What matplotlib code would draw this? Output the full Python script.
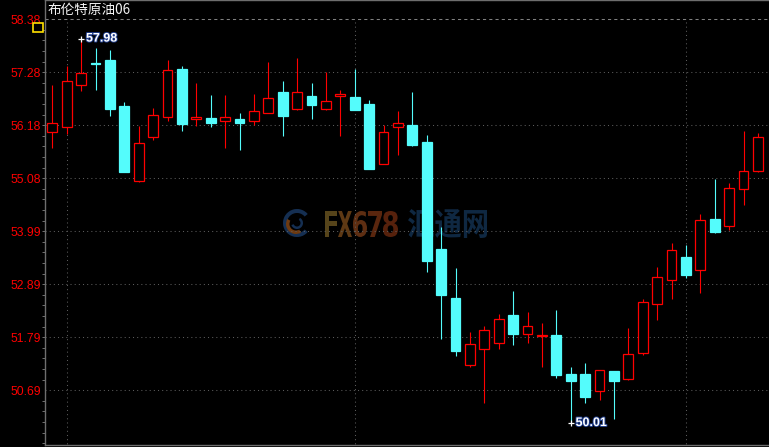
import numpy as np
import matplotlib
matplotlib.use("Agg")
import matplotlib.pyplot as plt
from matplotlib.patches import Rectangle, PathPatch, Wedge
from matplotlib.textpath import TextPath
from matplotlib.font_manager import FontProperties
from matplotlib.transforms import Affine2D
import matplotlib.patheffects as pe

# daily candles, Brent crude 06 contract
opens = [56.04, 56.15, 57.02, 57.48, 57.54, 56.58, 55.02, 55.95, 56.35, 57.34,
         56.32, 56.33, 56.28, 56.31, 56.28, 56.44, 56.87, 56.53, 56.79, 56.53,
         56.78, 56.77, 56.62, 55.39, 56.14, 56.19, 55.84, 53.62, 52.60, 51.22,
         51.54, 51.66, 52.25, 51.85, 51.82, 51.84, 51.03, 51.03, 50.68, 51.09,
         50.93, 51.47, 52.47, 52.97, 53.45, 53.18, 54.24, 54.09, 54.86, 55.23]
highs = [57.02, 57.42, 57.98, 57.78, 57.74, 56.67, 56.17, 56.54, 57.54, 57.41,
         57.06, 56.81, 56.81, 56.44, 56.83, 57.50, 57.10, 57.58, 57.06, 57.28,
         56.91, 57.35, 56.70, 56.18, 56.48, 56.87, 55.98, 54.07, 53.22, 51.90,
         52.02, 52.27, 52.75, 52.31, 52.08, 52.35, 51.17, 51.26, 51.12, 51.09,
         51.99, 52.58, 53.25, 53.74, 53.70, 54.34, 55.07, 54.99, 56.06, 56.02]
lows = [55.71, 56.00, 56.90, 56.91, 56.38, 55.21, 55.01, 55.88, 56.28, 56.07,
        56.17, 56.15, 55.72, 55.68, 56.19, 56.43, 55.97, 56.49, 56.32, 56.51,
        55.97, 56.49, 55.28, 55.37, 55.57, 55.75, 53.14, 51.76, 51.39, 51.17,
        50.43, 51.54, 51.63, 51.66, 51.18, 50.95, 50.01, 50.43, 50.49, 50.09,
        50.90, 51.42, 52.14, 52.58, 53.02, 52.71, 53.96, 54.02, 54.54, 55.22]
closes = [56.24, 57.10, 57.26, 57.46, 56.52, 55.22, 55.81, 56.39, 57.33, 56.20,
          56.36, 56.24, 56.35, 56.24, 56.48, 56.74, 56.38, 56.87, 56.61, 56.68,
          56.83, 56.51, 55.28, 56.04, 56.22, 55.78, 53.36, 52.67, 51.51, 51.65,
          51.94, 52.17, 51.86, 52.02, 51.84, 51.01, 50.89, 50.54, 51.10, 50.89,
          51.44, 52.52, 53.03, 53.59, 53.07, 54.21, 53.98, 54.88, 55.23, 55.93]

y_ticks = [58.38, 57.28, 56.18, 55.08, 53.99, 52.89, 51.79, 50.69]
period_lines = [1, 21, 44]
title = "布伦特原油06"
peak_idx, peak_val = 2, 57.98
trough_idx, trough_val = 36, 50.01

UP = "#ff0000"
DOWN = "#54fcfc"
GRID = "#5c5c5c"

W, H = 769, 447
fig = plt.figure(figsize=(W / 100, H / 100), dpi=100, facecolor="black")
ax = fig.add_axes([45 / W, 2 / H, 1 - 45 / W, 445 / H])
ax.set_facecolor("black")

x = np.arange(len(opens))
o = np.array(opens)
c = np.array(closes)
up = c >= o
colors = np.where(up, UP, DOWN)

# grid
for i, v in enumerate(y_ticks):
    if i == 0:
        ax.axhline(v, color="#808080", lw=0.75, dashes=(3, 3), zorder=1)
    else:
        ax.axhline(v, color=GRID, lw=0.75, dashes=(1, 3), zorder=1)
ax.vlines(period_lines, 49.0, y_ticks[0], color=GRID, lw=0.75,
          linestyles=(0, (1, 3)), zorder=1)

# wicks then bodies
ax.vlines(x, lows, highs, colors=colors, lw=0.8, zorder=2)
bottoms = np.minimum(o, c)
heights = np.maximum(np.abs(c - o), 0.02)
ax.bar(x, heights, bottom=bottoms, width=0.68,
       facecolor=np.where(up, "black", DOWN), edgecolor=colors,
       linewidth=0.9, zorder=3)

# extreme labels
for idx, val in [(peak_idx, peak_val), (trough_idx, trough_val)]:
    ax.plot(idx, val, marker="+", color="white", ms=5, mew=0.9, zorder=5)
    ax.annotate(f"{val:.2f}", (idx, val), xytext=(3.5, 0),
                textcoords="offset points", va="center", ha="left",
                color="white", fontsize=9, fontweight="bold",
                family="Liberation Sans", zorder=6,
                path_effects=[pe.withStroke(linewidth=1.3, foreground="#1c3a8a")])

ax.set_xlim(-0.507, 49.77)
ax.set_ylim(49.555, 58.78)
ax.set_xticks([])
ax.set_yticks(y_ticks)
ax.set_yticklabels([f"{v:.2f}" for v in y_ticks])
step = (y_ticks[0] - y_ticks[-1]) / (len(y_ticks) - 1) / 5
ax.set_yticks(np.arange(y_ticks[0], 49.5, -step), minor=True)
ax.tick_params(axis="y", which="major", length=0, pad=3, labelcolor="#ff0000",
               labelsize=8.8)
ax.tick_params(axis="y", which="minor", length=2, color="#707070", width=0.7)
for lab in ax.get_yticklabels():
    lab.set_family("Liberation Sans")
for s in ["left", "bottom", "top"]:
    ax.spines[s].set_color("#6e6e6e")
    ax.spines[s].set_linewidth(1.0)
ax.spines["right"].set_visible(False)

# title
fig.text(48 / W, 1 - 3 / H, title, color="#f4f4f4", fontsize=9.8,
         va="top", ha="left", family=["Noto Sans CJK SC", "DejaVu Sans"])

# yellow marker box
fig.add_artist(Rectangle((33 / W, 1 - 32 / H), 10 / W, 9 / H,
                         transform=fig.transFigure, facecolor="black",
                         edgecolor="#ffe000", lw=1.2))


# watermark, placed in pixel coordinates, under the candles
def stamp(text, x0, x1, y0, y1, color, font):
    path = TextPath((0, 0), text, size=1, prop=font)
    ext = path.get_extents()
    tr = (Affine2D().translate(-ext.x0, -ext.y0)
          .scale((x1 - x0) / ext.width, (y1 - y0) / ext.height)
          .translate(x0, H - y1))
    ax.add_artist(PathPatch(path, transform=tr, facecolor=color,
                            edgecolor="none", zorder=0.5))


bold = FontProperties(family="DejaVu Sans", weight="bold")
cjk = FontProperties(family="Noto Sans CJK SC", weight="bold")
for ch, x0, x1, col in [("F", 325, 337, "#56441a"), ("X", 338, 352, "#5e3914"),
                        ("6", 353, 367, "#5e2e12"), ("7", 368, 382, "#5a260e"),
                        ("8", 383, 398, "#56210c")]:
    stamp(ch, x0, x1, 211, 237, col, bold)
stamp("汇通网", 408, 487, 209, 238, "#0f2842", cjk)
cx, cy = 297, H - 223
ax.add_artist(Wedge((cx, cy), 14, 40, 320, width=4, transform=None,
                    facecolor="#152f52", edgecolor="none", zorder=0.5))
ax.add_artist(Wedge((cx - 1, cy - 1), 10, 150, 300, width=3.5, transform=None,
                    facecolor="#6e3a10", edgecolor="none", zorder=0.5))
ax.add_artist(Wedge((cx, cy), 6, 200, 60, width=2.5, transform=None,
                    facecolor="#152f52", edgecolor="none", zorder=0.5))

fig.savefig("out.png", dpi=100, facecolor="black")
